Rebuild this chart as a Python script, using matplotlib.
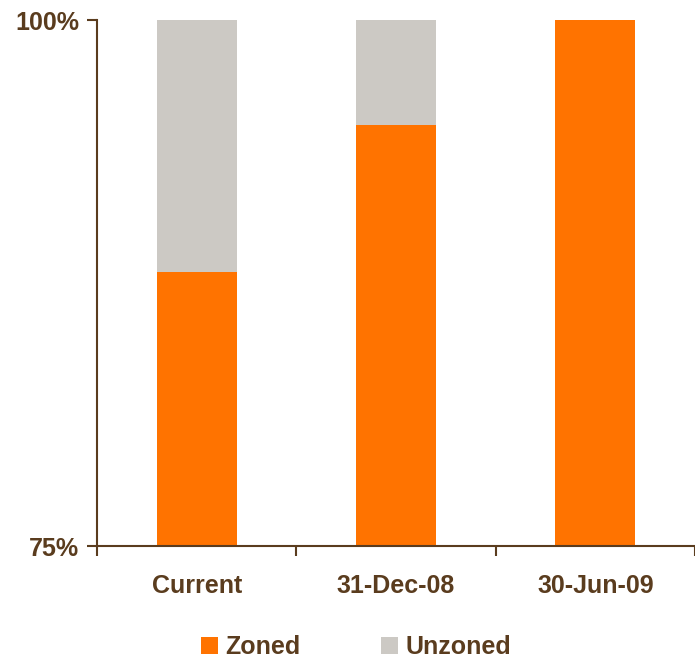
import numpy as np
import matplotlib.pyplot as plt
from matplotlib.ticker import FixedLocator

categories = ["Current", "31-Dec-08", "30-Jun-09"]
zoned = [88.0, 95.0, 100.0]
unzoned = [12.0, 5.0, 0.0]
y_ticks = [75, 100]
y_labels = ["75%", "100%"]

brown = "#5a3c1e"
orange = "#ff7300"
grey = "#ccc9c4"

plt.rcParams["font.family"] = ["Liberation Sans", "DejaVu Sans"]
plt.rcParams["font.weight"] = "bold"

fig = plt.figure(figsize=(6.95, 6.6), dpi=100)
ax = fig.add_axes([97 / 695, 1 - 546 / 660, 1 - 97 / 695, (546 - 20) / 660])

x = np.arange(len(categories))
ax.bar(x, zoned, width=0.4, color=orange, label="Zoned")
ax.bar(x, unzoned, width=0.4, bottom=zoned, color=grey, label="Unzoned")

ax.set_xlim(-0.5, len(categories) - 0.5)
ax.set_ylim(75, 100)

for s in ["top", "right"]:
    ax.spines[s].set_visible(False)
for s in ["left", "bottom"]:
    ax.spines[s].set_color(brown)
    ax.spines[s].set_linewidth(1.5)
    ax.spines[s].set_clip_on(False)

ax.set_yticks(y_ticks)
ax.set_yticklabels(y_labels)
ax.tick_params(axis="y", direction="out", length=7, width=1.5, color=brown,
               labelcolor=brown, labelsize=18, pad=6)

ax.xaxis.set_major_locator(FixedLocator(np.arange(len(categories) + 1) - 0.5))
ax.xaxis.set_minor_locator(FixedLocator(x))
ax.set_xticklabels([], minor=False)
ax.set_xticklabels(categories, minor=True)
ax.tick_params(axis="x", which="major", direction="out", length=7, width=1.5,
               color=brown)
ax.tick_params(axis="x", which="minor", length=0, labelcolor=brown,
               labelsize=18, pad=20)

leg = fig.legend(loc="center", bbox_to_anchor=(0.512, 1 - 647 / 660), ncol=2,
                 frameon=False, fontsize=18, handlelength=0.68,
                 handleheight=0.68, handletextpad=0.3, columnspacing=3.2)
for t in leg.get_texts():
    t.set_color(brown)

fig.savefig("out.png", dpi=100)
